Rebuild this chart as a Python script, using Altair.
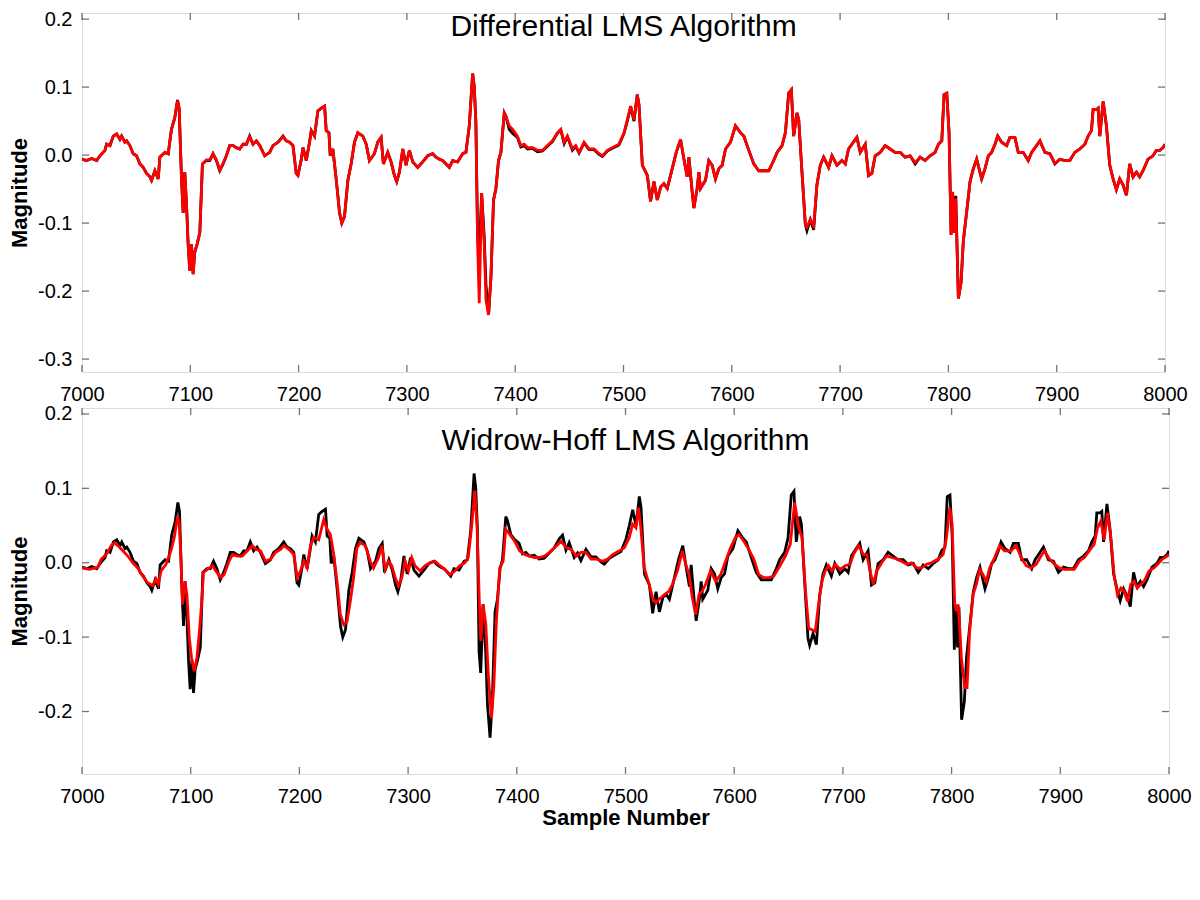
import altair as alt
import pandas as pd

FONT = "Liberation Sans"

# ---------------- data ----------------
top_samples = [
    7000, 7004.3, 7008.9, 7013.5, 7016.6, 7021.2, 7022.7, 7025.8, 7028.9, 7032.0, 7035.0, 7036.6, 7039.6, 7041.2,
    7044.2, 7047.3, 7050.4, 7053.5, 7056.5, 7059.6, 7062.7, 7064.2, 7067.3, 7070.4, 7071.9, 7076.5, 7079.6, 7082.6,
    7085.7, 7088.2, 7089.7, 7091.9, 7093.4, 7094.9, 7096.5, 7098.0, 7099.5, 7101.1, 7102.6, 7104.1, 7106.3, 7108.8,
    7111.2, 7114.9, 7118.0, 7121.0, 7124.1, 7127.2, 7130.3, 7133.3, 7136.4, 7139.5, 7142.5, 7145.6, 7148.7, 7151.8,
    7154.8, 7157.9, 7161.0, 7164.1, 7168.7, 7173.3, 7176.3, 7181.0, 7185.6, 7188.6, 7191.7, 7194.8, 7197.8, 7199.4,
    7202.5, 7204.0, 7207.1, 7210.1, 7211.7, 7214.7, 7217.8, 7220.9, 7224.0, 7225.5, 7228.0, 7229.2, 7231.6, 7234.7,
    7237.8, 7239.9, 7242.4, 7245.5, 7248.5, 7251.6, 7254.7, 7259.3, 7262.4, 7265.4, 7270.0, 7273.1, 7276.2, 7278.3,
    7282.3, 7285.4, 7288.5, 7290.6, 7293.1, 7296.2, 7299.2, 7302.3, 7305.4, 7310.0, 7314.6, 7319.2, 7323.8, 7326.9,
    7330.0, 7333.0, 7336.1, 7339.2, 7342.2, 7346.8, 7351.5, 7354.5, 7357.6, 7360.7, 7362.2, 7363.7, 7365.3, 7366.8,
    7369.0, 7371.4, 7373.0, 7375.4, 7377.6, 7380.0, 7382.2, 7384.6, 7386.8, 7389.9, 7391.4, 7394.5, 7397.5, 7402.1,
    7405.2, 7408.3, 7411.4, 7416.0, 7420.6, 7425.2, 7429.8, 7434.4, 7439.0, 7442.1, 7445.2, 7448.2, 7452.8, 7455.9,
    7459.0, 7463.6, 7468.2, 7472.8, 7477.4, 7480.5, 7485.1, 7489.7, 7495.8, 7500.5, 7503.5, 7506.6, 7509.7, 7512.7,
    7514.3, 7517.4, 7522.0, 7525.0, 7528.1, 7531.2, 7534.3, 7537.3, 7540.4, 7545.0, 7548.7, 7552.7, 7555.8, 7558.8,
    7560.4, 7563.4, 7565.0, 7568.0, 7569.6, 7571.1, 7575.7, 7578.8, 7581.9, 7584.9, 7588.0, 7591.1, 7594.2, 7598.8,
    7603.4, 7608.0, 7611.1, 7615.7, 7620.3, 7624.9, 7629.5, 7634.1, 7638.7, 7641.8, 7646.4, 7649.5, 7652.5, 7655.0,
    7657.1, 7660.2, 7661.8, 7664.8, 7667.9, 7669.4, 7672.5, 7675.6, 7678.6, 7681.7, 7684.8, 7689.4, 7692.5, 7697.1,
    7701.7, 7704.8, 7707.8, 7710.9, 7715.5, 7718.6, 7723.2, 7726.3, 7729.3, 7732.4, 7737.0, 7741.6, 7746.2, 7750.8,
    7755.5, 7760.1, 7764.7, 7769.3, 7773.9, 7778.5, 7783.1, 7787.7, 7790.8, 7793.9, 7796.0, 7798.5, 7800.6, 7802.5,
    7804.0, 7805.5, 7806.8, 7809.2, 7811.7, 7813.8, 7816.9, 7820.0, 7823.0, 7826.1, 7830.7, 7833.8, 7836.9, 7839.9,
    7843.0, 7845.5, 7849.2, 7853.8, 7856.8, 7861.4, 7864.5, 7869.1, 7873.7, 7876.8, 7881.4, 7884.5, 7889.1, 7893.7,
    7898.3, 7902.9, 7907.5, 7912.1, 7916.7, 7921.4, 7926.0, 7929.0, 7932.1, 7933.6, 7936.7, 7938.2, 7939.8, 7942.9,
    7945.9, 7949.0, 7952.1, 7955.1, 7958.2, 7961.3, 7964.4, 7967.4, 7970.5, 7973.6, 7976.6, 7979.7, 7984.3, 7988.9,
    7992.0, 7995.1, 7998.2, 8000.0,
]

# desired (black) signal
desired = [
    -0.006, -0.008, -0.005, -0.008, -0.001, 0.007, 0.016, 0.014, 0.028, 0.031, 0.023, 0.028, 0.019, 0.021,
    0.014, 0.002, -0.001, -0.013, -0.018, -0.027, -0.032, -0.037, -0.023, -0.035, -0.003, 0.004, 0.002, 0.038,
    0.055, 0.081, 0.069, -0.035, -0.085, -0.025, -0.073, -0.131, -0.170, -0.131, -0.175, -0.143, -0.131, -0.114,
    -0.013, -0.008, -0.008, 0.002, -0.008, -0.023, -0.013, -0.001, 0.014, 0.014, 0.011, 0.009, 0.016, 0.016,
    0.028, 0.016, 0.021, 0.014, -0.001, 0.004, 0.014, 0.019, 0.028, 0.021, 0.019, 0.014, -0.027, -0.030,
    -0.006, 0.011, -0.008, 0.019, 0.036, 0.028, 0.065, 0.069, 0.072, 0.036, 0.033, -0.001, 0.009, -0.035,
    -0.085, -0.100, -0.090, -0.037, -0.013, 0.019, 0.033, 0.028, 0.016, -0.008, 0.002, 0.019, 0.026, -0.013,
    0.004, -0.010, -0.030, -0.039, -0.025, 0.009, -0.015, 0.007, -0.010, -0.018, -0.010, -0.001, 0.002, -0.003,
    -0.006, -0.008, -0.013, -0.018, -0.008, -0.010, 0.002, 0.004, 0.043, 0.120, 0.101, 0.048, -0.120, -0.148,
    -0.056, -0.120, -0.190, -0.235, -0.180, -0.066, -0.049, -0.008, 0.004, 0.062, 0.057, 0.038, 0.032, 0.026,
    0.012, 0.014, 0.009, 0.010, 0.005, 0.006, 0.013, 0.020, 0.032, 0.037, 0.017, 0.027, 0.007, 0.013,
    0.003, 0.018, 0.008, 0.008, 0.001, -0.002, 0.006, 0.010, 0.015, 0.032, 0.050, 0.071, 0.050, 0.089,
    0.074, -0.015, -0.030, -0.068, -0.039, -0.066, -0.047, -0.042, -0.049, -0.020, 0.004, 0.023, -0.006, -0.032,
    -0.003, -0.054, -0.078, -0.049, -0.025, -0.049, -0.037, -0.008, -0.015, -0.035, -0.020, -0.015, 0.009, 0.019,
    0.043, 0.033, 0.028, 0.007, -0.013, -0.023, -0.023, -0.023, -0.008, 0.004, 0.014, 0.033, 0.091, 0.096,
    0.028, 0.062, 0.052, -0.025, -0.102, -0.111, -0.095, -0.110, -0.044, -0.015, -0.003, -0.018, -0.001, -0.015,
    -0.008, -0.013, 0.009, 0.016, 0.026, 0.004, 0.016, -0.030, -0.027, -0.001, 0.004, 0.014, 0.009, 0.004,
    0.004, -0.003, -0.001, -0.013, -0.003, -0.008, -0.001, 0.004, 0.016, 0.021, 0.089, 0.091, 0.033, -0.117,
    -0.060, -0.114, -0.060, -0.211, -0.187, -0.126, -0.083, -0.039, -0.020, -0.006, -0.035, -0.020, -0.001, 0.004,
    0.016, 0.028, 0.019, 0.014, 0.026, 0.026, 0.004, 0.004, -0.008, 0.004, 0.014, 0.021, 0.004, 0.002,
    -0.013, -0.006, -0.008, -0.008, 0.004, 0.009, 0.016, 0.028, 0.036, 0.067, 0.067, 0.069, 0.028, 0.079,
    0.043, -0.015, -0.035, -0.051, -0.035, -0.044, -0.059, -0.013, -0.032, -0.025, -0.032, -0.023, -0.006, -0.001,
    0.007, 0.007, 0.011, 0.016,
]

# differential LMS estimate (red, top panel)
differential = [
    -0.006, -0.008, -0.005, -0.008, -0.001, 0.007, 0.016, 0.014, 0.028, 0.031, 0.023, 0.028, 0.019, 0.021,
    0.014, 0.002, -0.001, -0.013, -0.018, -0.027, -0.032, -0.037, -0.023, -0.035, -0.003, 0.004, 0.002, 0.038,
    0.055, 0.080, 0.069, -0.035, -0.085, -0.025, -0.073, -0.131, -0.170, -0.131, -0.175, -0.143, -0.131, -0.114,
    -0.013, -0.007, -0.007, 0.002, -0.007, -0.022, -0.012, -0.001, 0.014, 0.014, 0.011, 0.009, 0.016, 0.016,
    0.027, 0.016, 0.021, 0.014, -0.001, 0.004, 0.014, 0.019, 0.027, 0.021, 0.019, 0.014, -0.027, -0.030,
    -0.006, 0.011, -0.008, 0.019, 0.036, 0.028, 0.065, 0.069, 0.072, 0.036, 0.033, -0.001, 0.009, -0.035,
    -0.085, -0.100, -0.090, -0.037, -0.013, 0.019, 0.033, 0.028, 0.016, -0.008, 0.002, 0.019, 0.026, -0.013,
    0.004, -0.010, -0.030, -0.039, -0.025, 0.009, -0.015, 0.007, -0.010, -0.018, -0.010, -0.001, 0.002, -0.003,
    -0.006, -0.008, -0.013, -0.018, -0.008, -0.010, 0.002, 0.004, 0.043, 0.120, 0.101, 0.048, -0.131, -0.218,
    -0.056, -0.131, -0.213, -0.235, -0.180, -0.066, -0.049, -0.008, 0.004, 0.062, 0.057, 0.043, 0.038, 0.028,
    0.014, 0.016, 0.011, 0.011, 0.007, 0.007, 0.014, 0.021, 0.033, 0.038, 0.019, 0.028, 0.009, 0.014,
    0.004, 0.019, 0.009, 0.009, 0.002, -0.001, 0.007, 0.011, 0.016, 0.033, 0.052, 0.072, 0.052, 0.089,
    0.074, -0.015, -0.030, -0.068, -0.039, -0.066, -0.047, -0.042, -0.049, -0.020, 0.004, 0.023, -0.006, -0.032,
    -0.003, -0.054, -0.078, -0.049, -0.025, -0.049, -0.037, -0.008, -0.015, -0.035, -0.020, -0.015, 0.009, 0.019,
    0.043, 0.033, 0.028, 0.007, -0.013, -0.023, -0.023, -0.023, -0.008, 0.004, 0.014, 0.033, 0.091, 0.096,
    0.028, 0.062, 0.052, -0.025, -0.102, -0.106, -0.095, -0.104, -0.044, -0.015, -0.003, -0.018, -0.001, -0.015,
    -0.008, -0.013, 0.009, 0.016, 0.026, 0.004, 0.016, -0.030, -0.027, -0.001, 0.004, 0.014, 0.009, 0.004,
    0.004, -0.003, -0.001, -0.011, -0.003, -0.008, -0.001, 0.004, 0.016, 0.021, 0.089, 0.091, 0.033, -0.117,
    -0.054, -0.114, -0.064, -0.211, -0.187, -0.126, -0.083, -0.039, -0.020, -0.006, -0.035, -0.020, -0.001, 0.004,
    0.016, 0.028, 0.019, 0.014, 0.026, 0.026, 0.004, 0.004, -0.008, 0.004, 0.014, 0.021, 0.004, 0.002,
    -0.012, -0.006, -0.008, -0.008, 0.004, 0.009, 0.016, 0.028, 0.036, 0.067, 0.067, 0.069, 0.028, 0.079,
    0.043, -0.015, -0.035, -0.051, -0.035, -0.044, -0.059, -0.013, -0.032, -0.025, -0.032, -0.023, -0.006, -0.001,
    0.007, 0.007, 0.011, 0.016,
]

# Widrow-Hoff LMS estimate (red, bottom panel)
wh_samples = [
    7000, 7007.0, 7014.6, 7017.7, 7022.3, 7026.9, 7029.9, 7033.0, 7037.6, 7042.1, 7046.7, 7051.3, 7055.9, 7060.5,
    7065.0, 7068.1, 7070.2, 7072.7, 7077.3, 7081.8, 7084.9, 7088.0, 7089.5, 7091.0, 7092.5, 7094.7, 7096.5, 7098.7,
    7100.8, 7103.2, 7105.7, 7107.8, 7110.0, 7111.8, 7115.5, 7120.0, 7123.1, 7127.7, 7130.7, 7135.3, 7138.4, 7142.9,
    7147.5, 7152.1, 7156.7, 7159.8, 7164.3, 7168.9, 7173.5, 7178.1, 7182.7, 7185.7, 7190.3, 7194.9, 7198.0, 7201.0,
    7204.1, 7207.1, 7210.2, 7213.2, 7217.8, 7222.4, 7225.5, 7228.5, 7231.6, 7234.6, 7237.7, 7240.7, 7243.8, 7246.8,
    7249.9, 7252.9, 7256.0, 7260.6, 7265.2, 7268.2, 7272.8, 7275.9, 7278.9, 7282.0, 7285.0, 7288.1, 7291.1, 7294.2,
    7297.2, 7300.3, 7303.4, 7306.4, 7311.0, 7315.6, 7320.2, 7324.8, 7329.3, 7333.9, 7338.5, 7343.0, 7347.6, 7352.2,
    7355.3, 7358.3, 7361.4, 7363.5, 7365.4, 7366.9, 7369.0, 7371.5, 7373.6, 7376.7, 7378.8, 7381.2, 7384.3, 7387.4,
    7389.8, 7393.5, 7398.0, 7402.6, 7407.2, 7411.8, 7416.4, 7421.0, 7425.5, 7430.1, 7434.7, 7440.8, 7445.4, 7450.0,
    7454.6, 7459.1, 7463.7, 7468.3, 7472.9, 7479.0, 7483.6, 7488.2, 7494.3, 7498.9, 7503.5, 7506.5, 7509.6, 7512.0,
    7514.1, 7517.2, 7521.8, 7524.8, 7527.9, 7531.0, 7535.5, 7540.1, 7543.2, 7547.8, 7552.3, 7555.4, 7558.4, 7561.5,
    7564.6, 7567.6, 7570.7, 7573.7, 7578.3, 7582.9, 7587.5, 7592.1, 7596.6, 7601.2, 7604.3, 7608.9, 7613.4, 7618.0,
    7622.6, 7627.2, 7631.8, 7636.4, 7640.9, 7647.1, 7651.6, 7655.6, 7659.3, 7662.4, 7665.4, 7668.5, 7671.5, 7674.6,
    7677.6, 7680.7, 7683.7, 7686.8, 7689.9, 7692.9, 7697.5, 7702.1, 7706.7, 7709.7, 7714.3, 7718.9, 7721.9, 7725.0,
    7728.0, 7731.1, 7735.7, 7740.3, 7744.9, 7749.4, 7754.0, 7758.6, 7763.2, 7767.8, 7772.3, 7776.9, 7781.5, 7787.6,
    7792.2, 7795.3, 7798.3, 7800.5, 7802.9, 7804.4, 7806.0, 7807.5, 7809.0, 7812.1, 7814.2, 7816.6, 7819.7, 7822.8,
    7825.8, 7828.9, 7831.9, 7835.0, 7839.6, 7844.1, 7848.7, 7854.8, 7859.4, 7864.0, 7868.6, 7873.2, 7877.8, 7882.3,
    7885.4, 7890.0, 7894.6, 7899.1, 7903.7, 7908.3, 7912.9, 7917.5, 7922.1, 7926.6, 7931.2, 7934.3, 7937.3, 7940.4,
    7943.4, 7946.5, 7949.5, 7952.6, 7955.7, 7958.7, 7961.8, 7964.8, 7967.9, 7970.9, 7974.0, 7977.1, 7981.6, 7986.2,
    7990.8, 7993.9, 7998.4, 8000.0,
]
widrow_hoff = [
    -0.007, -0.009, -0.006, 0.005, 0.011, 0.023, 0.027, 0.023, 0.016, 0.009, 0.000, -0.007, -0.018, -0.027,
    -0.031, -0.022, -0.029, -0.011, -0.002, 0.016, 0.034, 0.063, 0.052, 0.007, -0.056, -0.025, -0.043, -0.101,
    -0.128, -0.146, -0.128, -0.096, -0.056, -0.013, -0.009, -0.004, -0.011, -0.020, -0.016, 0.002, 0.011, 0.009,
    0.009, 0.016, 0.023, 0.018, 0.016, 0.002, 0.005, 0.014, 0.018, 0.023, 0.018, 0.011, -0.020, -0.011,
    0.002, -0.007, 0.023, 0.034, 0.031, 0.058, 0.045, 0.038, 0.011, -0.025, -0.070, -0.083, -0.079, -0.052,
    -0.020, 0.020, 0.027, 0.023, 0.002, -0.007, 0.007, 0.023, -0.009, 0.002, -0.004, -0.020, -0.031, -0.020,
    0.002, -0.011, 0.007, -0.004, -0.011, -0.004, 0.000, 0.002, -0.004, -0.009, -0.016, -0.011, -0.004, 0.000,
    0.007, 0.047, 0.097, 0.047, -0.047, -0.105, -0.056, -0.083, -0.146, -0.209, -0.168, -0.079, -0.007, 0.002,
    0.045, 0.038, 0.029, 0.016, 0.011, 0.009, 0.007, 0.007, 0.009, 0.014, 0.020, 0.029, 0.020, 0.018,
    0.009, 0.014, 0.014, 0.005, 0.005, 0.002, 0.005, 0.011, 0.016, 0.020, 0.034, 0.052, 0.047, 0.074,
    0.047, -0.007, -0.029, -0.047, -0.054, -0.049, -0.043, -0.038, -0.029, -0.011, 0.016, -0.002, -0.016, -0.047,
    -0.070, -0.043, -0.038, -0.029, -0.011, -0.025, -0.016, 0.002, 0.020, 0.034, 0.038, 0.029, 0.018, 0.005,
    -0.016, -0.020, -0.020, -0.018, -0.007, 0.009, 0.025, 0.081, 0.047, 0.034, -0.034, -0.088, -0.090, -0.092,
    -0.056, -0.025, -0.011, -0.004, -0.011, -0.002, -0.009, -0.004, -0.002, 0.011, 0.023, 0.011, 0.011, -0.011,
    -0.029, -0.011, 0.000, 0.009, 0.007, 0.005, 0.002, -0.002, 0.000, -0.007, -0.007, -0.002, 0.000, 0.005,
    0.011, 0.034, 0.074, 0.052, -0.056, -0.065, -0.056, -0.088, -0.128, -0.168, -0.168, -0.092, -0.043, -0.029,
    -0.009, -0.016, -0.025, -0.007, 0.007, 0.023, 0.016, 0.016, 0.023, 0.007, -0.004, -0.007, -0.002, 0.009,
    0.016, 0.005, -0.002, -0.007, -0.009, -0.009, -0.009, 0.002, 0.007, 0.016, 0.025, 0.047, 0.056, 0.031,
    0.067, 0.034, -0.016, -0.043, -0.034, -0.038, -0.052, -0.029, -0.025, -0.034, -0.029, -0.025, -0.011, -0.007,
    0.000, 0.005, 0.009, 0.010,
]

x_ticks = [7000, 7100, 7200, 7300, 7400, 7500, 7600, 7700, 7800, 7900, 8000]
top_y_ticks = [-0.3, -0.2, -0.1, 0.0, 0.1, 0.2]
bottom_y_ticks = [-0.2, -0.1, 0.0, 0.1, 0.2]
top_y_domain = [-0.319, 0.209]
bottom_y_domain = [-0.284, 0.208]
panel_titles = ["Differential LMS Algorithm", "Widrow-Hoff LMS Algorithm"]
x_title = "Sample Number"
y_title = "Magnitude"

FRAME = "#3a3a3a"
LABEL_EXPR = "datum.value < 0 ? '-' + format(-datum.value, '.1f') : format(datum.value, '.1f')"


def panel(est_x, est_y, ydomain, yticks, title, width, height, show_xtitle, title_baseline_y):
    black_df = pd.DataFrame({"sample": top_samples, "value": desired})
    red_df = pd.DataFrame({"sample": est_x, "value": est_y})
    xscale = alt.Scale(domain=[7000, 8000], nice=False, zero=False)
    yscale = alt.Scale(domain=ydomain, nice=False, zero=False)

    xaxis_kw = dict(values=x_ticks, format="d", ticks=False, domain=False, grid=False,
                    labelFont=FONT, labelFontSize=20, labelColor="black", labelPadding=12,
                    labelFlush=False)
    if show_xtitle:
        xaxis_kw.update(title=x_title, titleFont=FONT, titleFontSize=22, titleFontWeight="bold",
                        titleColor="black", titlePadding=1)
    else:
        xaxis_kw.update(title=None)
    yaxis_kw = dict(values=yticks, labelExpr=LABEL_EXPR, ticks=False, domain=False, grid=False,
                    labelFont=FONT, labelFontSize=20, labelColor="black", labelPadding=10,
                    labelFlush=False,
                    title=y_title, titleFont=FONT, titleFontSize=22, titleFontWeight="bold",
                    titleColor="black", titlePadding=6)

    def X(field):
        return alt.X(field, scale=xscale, axis=alt.Axis(**xaxis_kw))

    def Y(field):
        return alt.Y(field, scale=yscale, axis=alt.Axis(**yaxis_kw))

    black = alt.Chart(black_df).mark_line(color="black", strokeWidth=2.8, clip=True).encode(
        x=X("sample:Q"), y=Y("value:Q"))
    red = alt.Chart(red_df).mark_line(color="#ff0000", strokeWidth=2.8, clip=True).encode(
        x=X("sample:Q"), y=Y("value:Q"))

    xt = pd.DataFrame({"sample": x_ticks})
    yt = pd.DataFrame({"value": yticks})
    tick_top = alt.Chart(xt).mark_tick(orient="vertical", size=7, thickness=1.3, color=FRAME).encode(
        x=X("sample:Q"), y=alt.value(3.5))
    tick_bottom = alt.Chart(xt).mark_tick(orient="vertical", size=7, thickness=1.3, color=FRAME).encode(
        x=X("sample:Q"), y=alt.value(height - 3.5))
    tick_left = alt.Chart(yt).mark_tick(orient="horizontal", size=7, thickness=1.3, color=FRAME).encode(
        y=Y("value:Q"), x=alt.value(3.5))
    tick_right = alt.Chart(yt).mark_tick(orient="horizontal", size=7, thickness=1.3, color=FRAME).encode(
        y=Y("value:Q"), x=alt.value(width - 3.5))

    label = alt.Chart(pd.DataFrame({"label": [title]})).mark_text(
        font=FONT, fontSize=30, color="black", align="center", baseline="alphabetic"
    ).encode(x=alt.value(width / 2), y=alt.value(title_baseline_y), text="label:N")

    return alt.layer(black, red, tick_top, tick_bottom, tick_left, tick_right, label).properties(
        width=width, height=height)


top = panel(top_samples, differential, top_y_domain, top_y_ticks, panel_titles[0], 1083, 359, False, 23)
bottom = panel(wh_samples, widrow_hoff, bottom_y_domain, bottom_y_ticks, panel_titles[1], 1087, 366, True, 42)

chart = alt.vconcat(top, bottom, spacing=-2).properties(
    padding={"left": 0, "top": 0, "right": 0, "bottom": 10},
    background="white",
).configure_view(stroke=FRAME, strokeWidth=1.3).configure(font=FONT)

chart.save("out.html", embed_options={"renderer": "svg", "actions": False})
